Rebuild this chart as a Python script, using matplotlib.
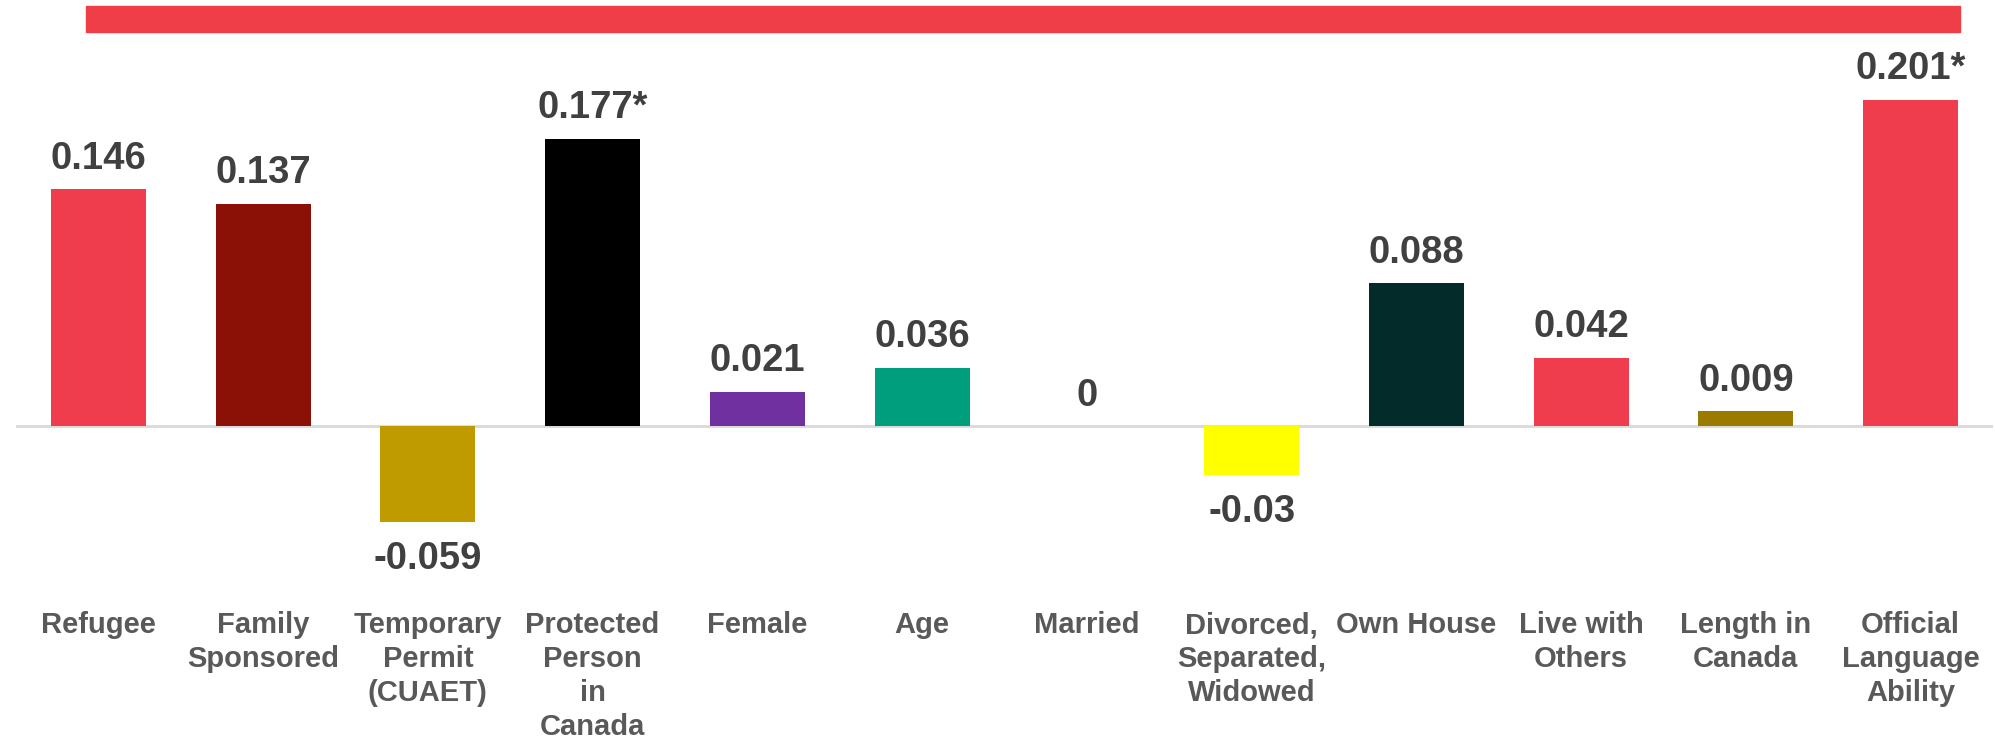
import matplotlib.pyplot as plt
from matplotlib.patches import Rectangle
import numpy as np

categories = ["Refugee", "Family\nSponsored", "Temporary\nPermit\n(CUAET)",
              "Protected\nPerson\nin\nCanada", "Female", "Age", "Married",
              "Divorced,\nSeparated,\nWidowed", "Own House", "Live with\nOthers",
              "Length in\nCanada", "Official\nLanguage\nAbility"]
values = [0.146, 0.137, -0.059, 0.177, 0.021, 0.036, 0, -0.03, 0.088, 0.042, 0.009, 0.201]
significant = [False, False, False, True, False, False, False, False, False, False, False, True]
colors = ["#EF3D4E", "#8B1006", "#BF9B00", "#000000", "#7030A0", "#009E7C",
          "#7F7F7F", "#FFFF00", "#032B2A", "#EF3D4E", "#9A7B00", "#EF3D4E"]

plt.rcParams['font.family'] = ['Liberation Sans', 'DejaVu Sans']

W, H = 1995, 739
fig = plt.figure(figsize=(W/100, H/100), dpi=100)

# axes placed so the zero line sits ~426 px from the top
base_px = 426
px_per_unit = 1622
top_px = 40
ymax = (base_px - top_px) / px_per_unit
ymin = -(H - base_px) / px_per_unit
ax = fig.add_axes([16/W, 0, 1977/W, (H - top_px)/H])
ax.set_xlim(-0.5, len(values) - 0.5)
ax.set_ylim(ymin, ymax)
ax.axis('off')

x = np.arange(len(values))
ax.bar(x, values, width=0.577, color=colors, zorder=2)
ax.axhline(0, color="#D9D9D9", lw=2, zorder=1)

for xi, v, sig in zip(x, values, significant):
    txt = f"{v:g}" + ("*" if sig else "")
    if v >= 0:
        ax.annotate(txt, (xi, v), xytext=(0, 9), textcoords='offset points',
                    ha='center', va='bottom', fontsize=27.5, fontweight='bold', color="#404040")
    else:
        ax.annotate(txt, (xi, v), xytext=(0, -14), textcoords='offset points',
                    ha='center', va='top', fontsize=27.5, fontweight='bold', color="#404040")

label_y = -(611 - base_px) / px_per_unit
for xi, lab in zip(x, categories):
    ax.text(xi, label_y, lab, ha='center', va='top', fontsize=21, fontweight='bold',
            color="#595959", linespacing=1.27)

# red header band
fig.patches.append(Rectangle((86/W, 1 - 32/H), (1960 - 86)/W, 26/H,
                             transform=fig.transFigure, color="#EF3E47"))

fig.savefig("out.png", dpi=100)
